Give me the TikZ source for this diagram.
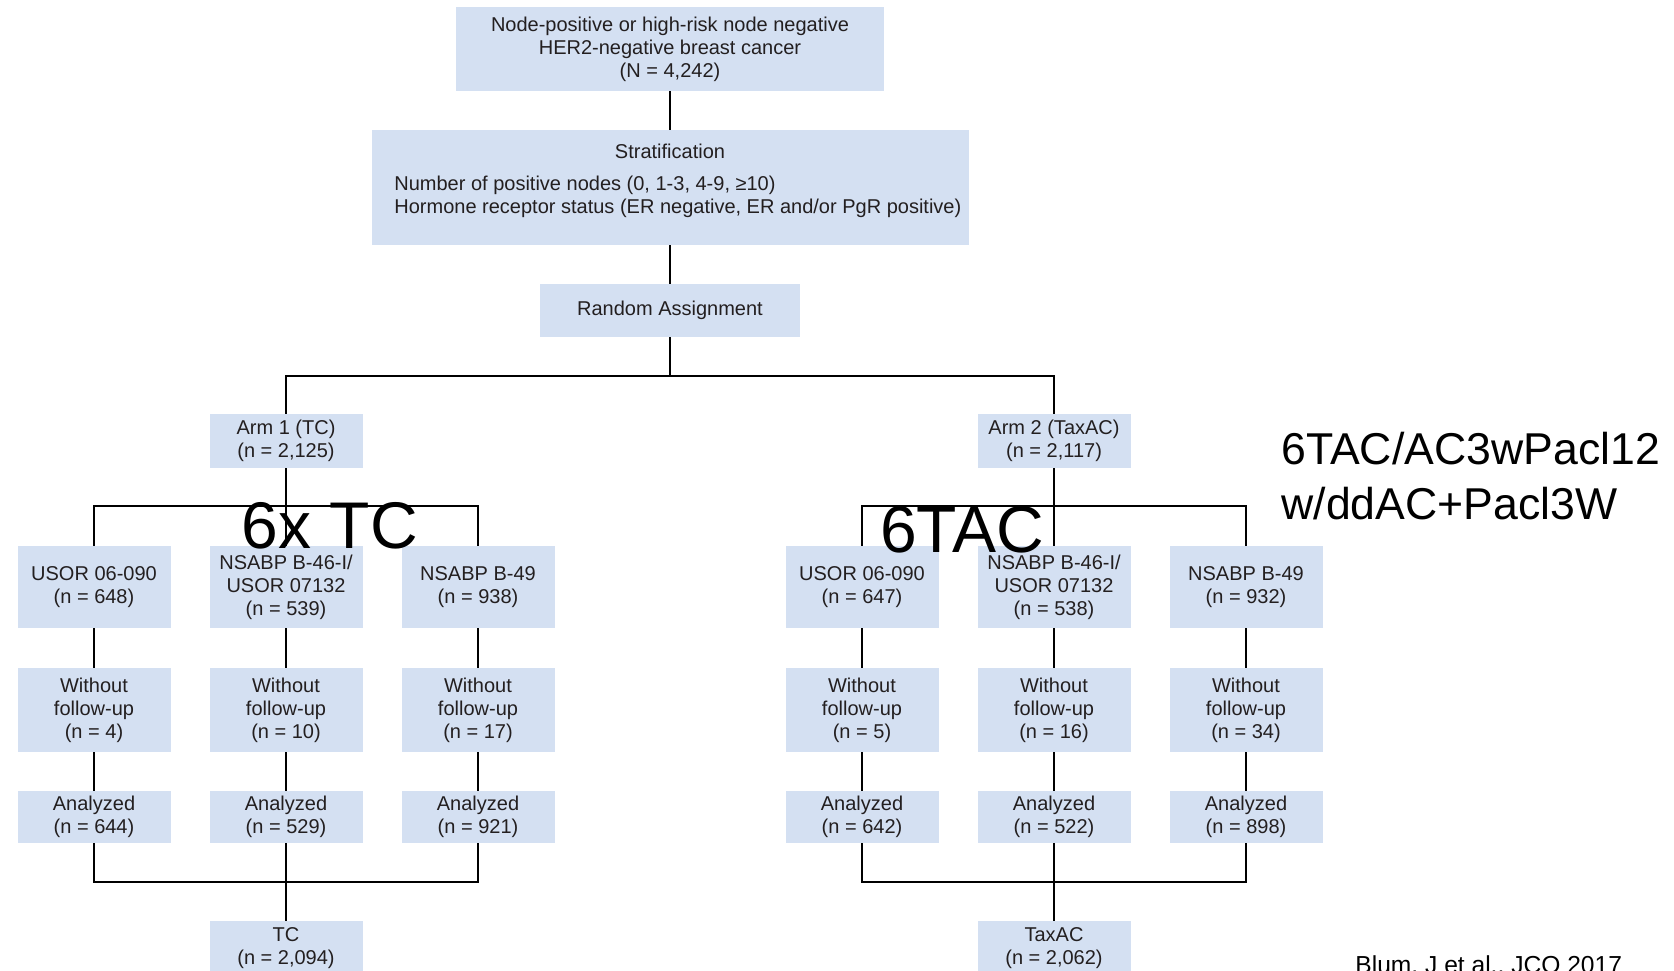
\documentclass[tikz,border=0pt]{standalone}
\usepackage{fontspec}
\setmainfont{Liberation Sans}
\definecolor{boxblue}{RGB}{212,224,242}
\definecolor{inkgrey}{RGB}{35,31,32}

\begin{document}
\begin{tikzpicture}[x=0.5pt,y=-0.5pt,
    font=\fontsize{10}{11.5}\selectfont,
    box/.style={fill=boxblue,align=center,inner sep=0pt,minimum width=76.5pt,text=inkgrey},
    link/.style={line width=1.35pt},
    bigtext/.style={font=\fontsize{33}{40}\selectfont,anchor=base,inner sep=0pt}]
    \clip (0,0) rectangle (1674,970);
    \fill[white] (0,0) rectangle (1674,970);

    \node[box,minimum width=214pt,minimum height=42pt] (pop) at (670,49)
        {Node-positive or high-risk node negative\\HER2-negative breast cancer\\(N = 4,242)};
    \node[box,minimum width=298.5pt,minimum height=57.5pt] (strat) at (670,187.5) {};
    \node[inner sep=0pt,text=inkgrey] (strattitle) at (670,151) {Stratification};
    \node[anchor=west,align=left,inner sep=0pt,text=inkgrey] (stratlist) at (394,197)
        {Number of positive nodes (0, 1-3, 4-9, ≥10)\\Hormone receptor status (ER negative, ER and/or PgR positive)};
    \node[box,minimum width=130pt,minimum height=26.5pt] (rand) at (670,310.5) {Random Assignment};
    \coordinate (split) at (670,376);

    \draw[link] (pop) -- (strat);
    \draw[link] (strat) -- (rand);
    \draw[link] (rand) -- (split);

    % the two arms
    \foreach \arm/\cx/\armtext/\totaltext in {
        1/286/{Arm 1 (TC)\\(n = 2,125)}/{TC\\(n = 2,094)},
        2/1054/{Arm 2 (TaxAC)\\(n = 2,117)}/{TaxAC\\(n = 2,062)}} {
        \node[box,minimum height=27pt] (arm\arm) at (\cx,441) {\armtext};
        \node[box,minimum height=27pt] (total\arm) at (\cx,948) {\totaltext};
        \coordinate (bar\arm) at (\cx,506);
        \coordinate (join\arm) at (\cx,882);
    }
    \draw[link] (arm1.north) |- (split) -| (arm2.north);

    % studies per arm
    \foreach \arm/\col/\sx/\study/\lost/\ana in {
        1/a/94/{USOR 06-090\\(n = 648)}/4/644,
        1/b/286/{NSABP B-46-I/\\USOR 07132\\(n = 539)}/10/529,
        1/c/478/{NSABP B-49\\(n = 938)}/17/921,
        2/a/862/{USOR 06-090\\(n = 647)}/5/642,
        2/b/1054/{NSABP B-46-I/\\USOR 07132\\(n = 538)}/16/522,
        2/c/1246/{NSABP B-49\\(n = 932)}/34/898} {
        \node[box,minimum height=41pt] (study\arm\col) at (\sx,587) {\study};
        \node[box,minimum height=42pt] (lost\arm\col) at (\sx,710) {Without\\follow-up\\(n = \lost)};
        \node[box,minimum height=26pt] (ana\arm\col) at (\sx,817) {Analyzed\\(n = \ana)};
        \draw[link] (study\arm\col) -- (lost\arm\col);
        \draw[link] (lost\arm\col) -- (ana\arm\col);
    }

    \foreach \arm in {1,2} {
        \draw[link] (study\arm a.north) |- (study\arm c.north |- bar\arm) -- (study\arm c.north);
        \draw[link] (arm\arm) -- (bar\arm) -- (study\arm b);
        \draw[link] (ana\arm a.south) |- (ana\arm c.south |- join\arm) -- (ana\arm c.south);
        \draw[link] (ana\arm b) -- (join\arm) -- (total\arm);
    }

    % regimen notes
    \node[bigtext] (tcnote) at (330,548) {6x TC};
    \node[bigtext] (tacnote) at (962,552) {6TAC};
    \node[font=\fontsize{22.3}{27.5}\selectfont,anchor=base west,inner sep=0pt] (regimen1) at (1281,464) {6TAC/AC3wPacl12};
    \node[font=\fontsize{22.3}{27.5}\selectfont,anchor=base west,inner sep=0pt] (regimen2) at (1281,519) {w/ddAC+Pacl3W};
    \node[font=\fontsize{12.3}{14}\selectfont,anchor=base west,inner sep=0pt] (cite) at (1355,973) {Blum, J et al., JCO 2017};
\end{tikzpicture}
\end{document}
